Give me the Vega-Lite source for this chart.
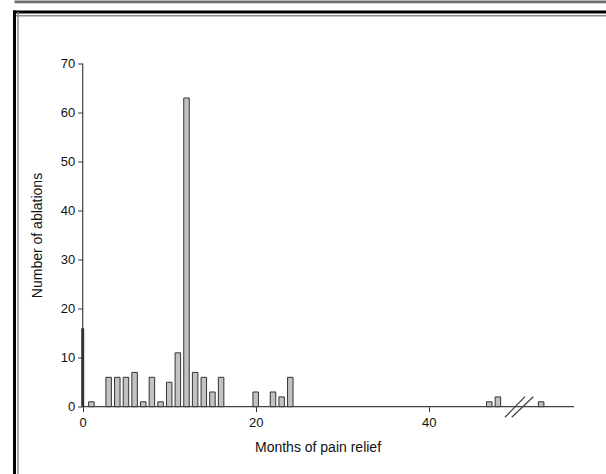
{
  "$schema": "https://vega.github.io/schema/vega-lite/v6.json",
  "width": 592,
  "height": 462.5,
  "autosize": {"type": "none"},
  "padding": {"left": 14, "top": 11.5, "right": 0, "bottom": 0},
  "background": "white",
  "config": {
    "view": {"stroke": null},
    "axis": {
      "grid": false,
      "domain": false,
      "tickColor": "#333333",
      "tickSize": 5,
      "labelFont": "Liberation Sans",
      "labelFontSize": 13,
      "labelColor": "#111111",
      "titleFont": "Liberation Sans",
      "titleFontSize": 14,
      "titleFontWeight": "normal",
      "titleColor": "#111111"
    }
  },
  "datasets": {
    "bars": [
      {"month": 0, "count": 16},
      {"month": 1, "count": 1},
      {"month": 3, "count": 6},
      {"month": 4, "count": 6},
      {"month": 5, "count": 6},
      {"month": 6, "count": 7},
      {"month": 7, "count": 1},
      {"month": 8, "count": 6},
      {"month": 9, "count": 1},
      {"month": 10, "count": 5},
      {"month": 11, "count": 11},
      {"month": 12, "count": 63},
      {"month": 13, "count": 7},
      {"month": 14, "count": 6},
      {"month": 15, "count": 3},
      {"month": 16, "count": 6},
      {"month": 20, "count": 3},
      {"month": 22, "count": 3},
      {"month": 23, "count": 2},
      {"month": 24, "count": 6},
      {"month": 47, "count": 1},
      {"month": 48, "count": 2},
      {"month": 53, "count": 1}
    ],
    "lines": [
      {"x1": 0, "x2": 56.8, "y1": 0, "y2": 0},
      {"x1": 0, "x2": 0, "y1": 0, "y2": 70},
      {"x1": 48.82, "x2": 51.13, "y1": -2.16, "y2": 2.04},
      {"x1": 49.6, "x2": 52.09, "y1": -2.16, "y2": 2.04}
    ]
  },
  "resolve": {"axis": {"x": "independent", "y": "independent"}},
  "layer": [
    {
      "data": {"name": "lines"},
      "mark": {"type": "rule", "color": "#404040", "strokeWidth": 1.2},
      "encoding": {
        "x": {
          "field": "x1", "type": "quantitative", "title": "Months of pain relief",
          "scale": {"domain": [-7.942, 60.497], "nice": false, "zero": false, "padding": 0},
          "axis": {"orient": "bottom", "offset": -67.3, "values": [0, 20, 40], "labelPadding": 5, "titlePadding": 11, "titleX": 303.5}
        },
        "x2": {"field": "x2"},
        "y": {
          "field": "y1", "type": "quantitative", "title": "Number of ablations",
          "scale": {"domain": [-13.735, 80.653], "nice": false, "zero": false, "padding": 0},
          "axis": {"orient": "left", "offset": -68.7, "values": [0, 10, 20, 30, 40, 50, 60, 70], "labelPadding": 3, "titlePadding": 16, "titleY": 223.5}
        },
        "y2": {"field": "y2"}
      }
    },
    {
      "data": {"name": "bars"},
      "transform": [{"filter": "datum.month > 0"}],
      "mark": {"type": "bar", "size": 5.5, "fill": "#c2c2c2", "stroke": "#333333", "strokeWidth": 1},
      "encoding": {
        "x": {
          "field": "month", "type": "quantitative",
          "scale": {"domain": [-7.942, 60.497], "nice": false, "zero": false, "padding": 0},
          "axis": {"orient": "top", "offset": 0, "title": null, "labels": false, "ticks": false, "domain": true, "domainColor": "#000000", "domainWidth": 3, "domainCap": "square"}
        },
        "y": {
          "field": "count", "type": "quantitative",
          "scale": {"domain": [-13.735, 80.653], "nice": false, "zero": false, "padding": 0},
          "axis": {"orient": "left", "offset": 0, "title": null, "labels": false, "ticks": false, "domain": true, "domainColor": "#000000", "domainWidth": 3, "domainCap": "square"}
        },
        "y2": {"datum": 0}
      }
    },
    {
      "data": {"name": "bars"},
      "transform": [{"filter": "datum.month == 0"}],
      "mark": {"type": "bar", "size": 3, "fill": "#333333"},
      "encoding": {
        "x": {
          "field": "month", "type": "quantitative",
          "scale": {"domain": [-7.942, 60.497], "nice": false, "zero": false, "padding": 0},
          "axis": {"orient": "top", "offset": -3.7, "title": null, "labels": false, "ticks": false, "domain": true, "domainColor": "#8a8a8a", "domainWidth": 1.5}
        },
        "y": {
          "field": "count", "type": "quantitative",
          "scale": {"domain": [-13.735, 80.653], "nice": false, "zero": false, "padding": 0},
          "axis": {"orient": "left", "offset": -3.5, "title": null, "labels": false, "ticks": false, "domain": true, "domainColor": "#8a8a8a", "domainWidth": 1.5}
        },
        "y2": {"datum": 0}
      }
    },
    {
      "data": {"name": "lines"},
      "transform": [{"filter": "false"}],
      "mark": {"type": "rule"},
      "encoding": {
        "x": {
          "field": "x1", "type": "quantitative",
          "scale": {"domain": [-7.942, 60.497], "nice": false, "zero": false, "padding": 0},
          "axis": {"orient": "top", "offset": 10.15, "title": null, "labels": false, "ticks": false, "domain": true, "domainColor": "#6e6e6e", "domainWidth": 2.7}
        },
        "x2": {"field": "x2"}
      }
    }
  ]
}
